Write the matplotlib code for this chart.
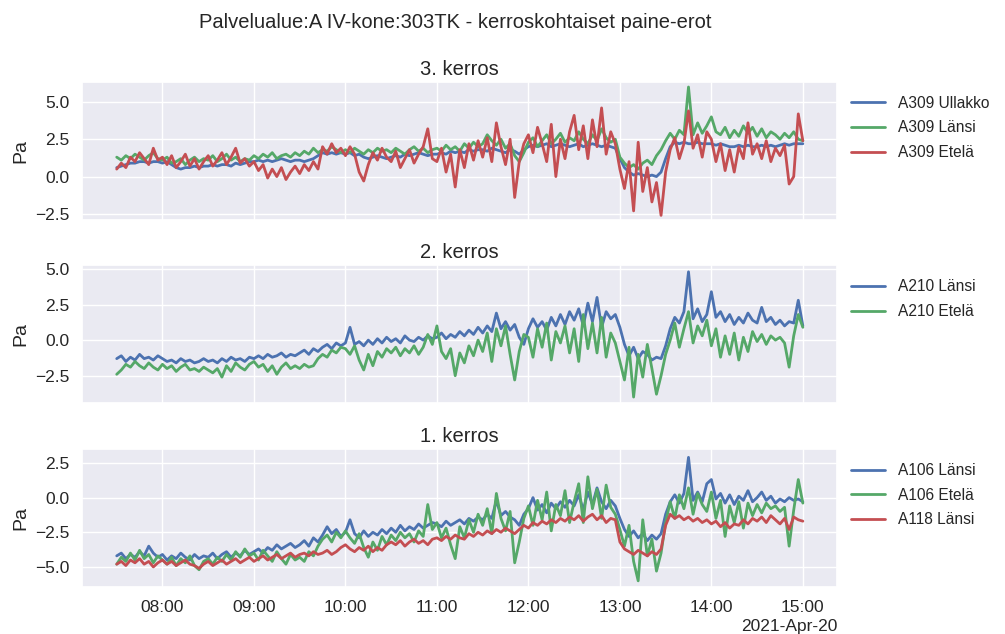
import numpy as np
import pandas as pd
import matplotlib
matplotlib.use("Agg")
import matplotlib.pyplot as plt
import matplotlib.dates as mdates
import matplotlib.ticker as mticker
import seaborn as sns

# Sampling: one reading every 3 minutes, 07:30 - 15:00
times = pd.date_range("2021-04-20 07:30", "2021-04-20 15:00", freq="3min")

# --- 3. kerros ---
a309_ullakko = [
    0.6, 0.7, 0.8, 0.9, 0.9, 1.0, 1.0, 0.9, 1.0, 1.0,
    0.9, 1.0, 0.8, 0.6, 0.5, 0.6, 0.6, 0.7, 0.6, 0.7,
    0.7, 0.8, 0.7, 0.8, 0.8, 0.7, 0.9, 0.8, 0.9, 1.0,
    1.0, 1.1, 1.0, 1.1, 1.0, 1.1, 1.2, 1.1, 1.0, 1.1,
    1.1, 1.0, 1.1, 1.2, 1.4, 1.6, 1.5, 1.6, 1.5, 1.6,
    1.5, 1.6, 1.4, 1.5, 1.3, 1.2, 1.3, 1.4, 1.3, 1.2,
    1.3, 1.4, 1.3, 1.5, 1.4, 1.5, 1.6, 1.5, 1.4, 1.5,
    1.5, 1.6, 1.5, 1.7, 1.6, 1.7, 1.6, 1.8, 1.7, 1.8,
    1.8, 1.7, 1.9, 1.8, 1.7, 1.6, 1.8, 1.7, 1.5, 1.8,
    2.0, 2.1, 2.0, 2.1, 2.2, 2.0, 2.1, 2.2, 2.1, 2.0,
    2.1, 2.2, 2.0, 2.1, 2.2, 2.1, 2.0, 2.1, 2.0, 1.9,
    1.2, 0.6, 0.3, 0.1, 0.2, 0.1, 0.0, 0.1, 0.0, 0.3,
    1.2, 2.0, 2.3, 2.2, 2.3, 2.2, 2.2, 2.3, 2.2, 2.2,
    2.2, 2.1, 2.2, 2.1, 2.0, 2.0, 2.1, 2.0, 2.1, 2.0,
    2.0, 2.1, 2.0, 2.1, 2.0, 2.1, 2.2, 2.1, 2.2, 2.2,
    2.2,
]
a309_lansi = [
    1.3, 1.1, 1.4, 1.2, 1.5, 1.3, 1.1, 1.4, 1.6, 1.2,
    1.1, 1.3, 0.9, 1.0, 1.2, 0.8, 1.1, 1.3, 1.0, 1.2,
    1.1, 1.4, 1.0, 1.2, 1.5, 1.1, 1.3, 1.0, 1.2, 1.1,
    1.4, 1.2, 1.5, 1.3, 1.6, 1.2, 1.4, 1.5, 1.3, 1.6,
    1.4, 1.7, 1.5, 1.9, 1.6, 1.8, 1.7, 2.0, 1.8, 1.6,
    1.8, 1.6, 1.9, 1.7, 1.5, 1.8, 1.6, 1.9, 1.7, 1.8,
    1.6, 1.9, 1.7, 1.5, 1.8, 2.0, 1.7, 1.9, 1.6, 1.8,
    1.9, 1.7, 2.1, 1.8, 2.0, 1.7, 2.2, 1.9, 2.3, 2.0,
    2.2, 2.8, 2.4, 2.1, 2.5, 1.9, 2.2, 1.4, 1.0, 1.6,
    2.3, 2.6, 2.0, 2.4, 2.8, 2.2, 2.5, 2.9, 2.3, 2.6,
    2.4, 3.0, 2.5, 2.2, 2.8, 2.4, 3.2, 2.6, 2.3, 2.5,
    1.3, 0.9, 0.6, 0.8, 0.5, 0.9, 1.1, 0.8, 1.4, 1.8,
    2.4, 2.9, 2.5, 3.1, 2.8, 6.0, 2.8, 3.6, 2.9, 3.4,
    4.0, 3.0, 2.8, 3.3, 2.6, 3.1, 2.7, 3.4, 2.9, 3.3,
    2.7, 3.2, 2.6, 3.0, 2.8, 2.5, 2.9, 2.6, 3.0, 2.5,
    2.4,
]
a309_etela = [
    0.5, 0.9, 0.6, 1.3, 1.0, 1.6, 1.2, 0.8, 1.9, 1.1,
    1.3, 0.8, 1.4, 0.6, 1.0, 1.5, 0.7, 1.2, 0.5, 1.0,
    1.4, 0.7, 1.1, 1.6, 0.8, 1.3, 1.9, 0.9, 1.2, 0.7,
    1.0, 0.4, 0.8, -0.1, 0.5, 0.0, 0.6, -0.2, 0.3, 0.7,
    0.2, 0.8, 0.4, 1.0, 0.5, 2.0, 1.5, 2.2, 1.6, 1.9,
    1.4, 2.0, 1.5, 0.3, -0.3, 0.8, 1.6, 1.1, 1.9, 1.3,
    1.0, 1.7, 0.6, 1.2, 1.8, 0.9, 1.5, 2.0, 3.2, 1.2,
    1.0, 1.9, 0.3, 1.5, -0.7, 1.8, 0.6, 2.2, 1.1, 2.4,
    1.3, 2.6, 1.0, 3.6, 2.0, 0.8, 2.5, -1.4, 1.0, 2.2,
    2.8, 1.6, 3.3, 2.2, 1.0, 3.5, 0.0, 2.5, 1.2, 3.0,
    4.1, 1.8, 3.4, 1.2, 3.8, 2.0, 4.6, 1.5, 3.0, 2.2,
    0.5, -0.8, 1.0, -2.3, 2.3, -1.0, 0.6, -1.7, -0.4, -2.6,
    0.3, 1.8, 2.6, 1.2, 2.2, 4.4, 1.9, 2.8, 1.3, 3.0,
    2.5, 1.0, 2.2, 0.4, 1.8, 0.3, 2.0, 1.2, 3.6, 1.5,
    2.2, 1.2, 2.4, 1.0, 1.9, 1.4, 2.1, -0.5, 0.0, 4.2,
    2.4,
]

# --- 2. kerros ---
a210_lansi = [
    -1.3, -1.1, -1.5, -1.2, -1.4, -1.0, -1.3, -1.2, -1.4, -1.1,
    -1.3, -1.5, -1.4, -1.6, -1.3, -1.5, -1.4, -1.6, -1.5, -1.3,
    -1.5, -1.4, -1.6, -1.3, -1.5, -1.2, -1.4, -1.3, -1.5, -1.2,
    -1.3, -1.1, -1.3, -1.0, -1.2, -1.1, -0.9, -1.2, -1.0, -1.1,
    -0.9, -0.7, -1.0, -0.6, -0.8, -0.5, -0.3, -0.6, -0.2, -0.4,
    -0.2, 0.9, -0.3, -0.1, -0.4, 0.0, -0.3, 0.1, -0.2, 0.2,
    -0.1, 0.1, -0.2, 0.3, 0.0, -0.1, 0.2, 0.0, 0.3, 0.1,
    0.2, 0.5, 0.1, 0.4, 0.2, 0.6, 0.3, 0.7, 0.4, 0.9,
    0.5, 1.0, 0.6, 1.9, 0.8, 1.3, 0.7, 1.1, 0.2, -0.3,
    0.8, 1.5, 0.9, 1.3, 0.7, 1.6, 1.0, 1.8, 1.1, 2.0,
    1.4, 2.2, 1.0, 2.6, 1.3, 3.0, 0.9, 2.0, 1.5, 1.8,
    0.9, -0.3, -1.1, -0.5, -1.3, -0.8, -1.0, -1.4, -1.2, -1.3,
    -0.4, 0.8, 1.6, 1.2, 2.0, 4.8, 1.5, 2.2, 1.3, 1.8,
    3.4, 1.6, 2.0, 1.3, 1.8, 1.1, 1.6, 1.2, 1.9, 1.4,
    1.2, 2.3, 1.3, 1.6, 1.1, 1.4, 1.0, 1.3, 1.2, 2.8,
    1.0,
]
a210_etela = [
    -2.4, -2.1, -1.7, -1.9, -1.5, -1.8, -2.0, -1.6, -1.9, -2.1,
    -1.7, -2.0, -1.8, -2.2, -1.9, -1.7, -2.1, -2.0, -2.2, -1.9,
    -2.1, -2.3, -2.0, -2.6, -1.8, -2.2, -1.6, -1.9, -2.1, -1.7,
    -1.5, -1.9, -1.7, -2.2, -1.8, -2.4, -1.9, -1.6, -2.0, -1.8,
    -2.0, -1.7, -1.9, -1.8, -1.3, -1.0, -1.2, -0.7, -0.9, -0.5,
    -0.6, -1.0, -0.4, -1.4, -2.1, -1.0, -1.8, -0.8, -1.2, -0.6,
    -0.9, -0.5, -1.1, -0.6, -0.9, -0.4, -1.0, -0.5, 0.4, -0.3,
    1.0, -0.8, -1.3, -0.6, -2.5, -0.9, -1.6, -0.4, -1.1, 0.0,
    -0.8, 0.5, -1.5, 0.8, -0.4, 1.0, -1.0, -2.8, -0.8, 0.4,
    0.2, -1.2, 0.8, -0.5, 1.2, -1.4, 0.6, -0.2, 1.0, -0.9,
    0.8, -1.5, 1.8, -0.6, 1.2, -0.9, 1.6, -1.2, 0.5, -0.2,
    -1.5, -2.8, -0.5, -4.0, -1.0, -2.6, -0.3, -2.0, -3.8, -2.5,
    -1.0, 0.0, 1.2, -0.5, 0.8, 2.0, -0.2, 1.0, 0.3, 1.4,
    -0.4, 0.8, -1.2, 0.3, -1.0, 0.5, -1.4, 0.2, -0.8, 0.6,
    -0.1, 0.4, -0.3, 0.3, 0.0, 0.2, -0.2, -1.9, 0.3, 1.8,
    0.9,
]

# --- 1. kerros ---
a106_lansi = [
    -4.2, -4.0, -4.4, -4.1, -4.3, -3.9, -4.2, -3.5, -4.0, -4.3,
    -4.1, -4.5, -4.2, -4.4, -4.0, -4.3, -4.5, -4.1, -4.4, -4.2,
    -4.3, -4.0, -4.4, -4.1, -3.9, -4.3, -4.0, -4.2, -3.8, -4.1,
    -3.9, -3.7, -4.0, -3.6, -3.8, -3.4, -3.7, -3.5, -3.3, -3.6,
    -3.4, -3.1, -3.5, -2.9, -3.2, -2.7, -2.1, -2.6, -2.3, -2.8,
    -2.5, -1.6, -2.6, -2.9, -2.4, -2.8, -2.5, -2.7, -2.3, -2.6,
    -2.2, -2.5, -2.0, -2.4, -2.1, -2.3, -1.9, -2.2, -2.0, -1.8,
    -1.9, -2.1, -1.7, -2.0, -1.8, -1.6, -1.9, -1.5, -1.7, -1.4,
    -1.6, -1.2, -1.5, -0.2, -1.3, -1.0, -1.4, -1.6, -2.0, -1.2,
    -0.8, 0.0, -0.9, -0.5, -1.1, -0.4, -0.8, -0.3, -0.7, -0.2,
    -0.6, 0.2, -0.9, 0.4, -0.5, 0.7, -0.3, -0.8, -0.2, -0.6,
    -1.5, -2.3, -2.8, -2.4, -2.9, -2.6, -3.1, -2.7, -3.0, -2.6,
    -1.2, -0.3, 0.2, -0.4, 0.3, 2.9, -0.2, 0.4, -0.3, 1.0,
    1.3, -0.1, 0.3, -0.4, 0.2, -0.5, 0.1, -0.2, 0.5, -0.3,
    0.0, 0.4, -0.2, 0.1, -0.4, -0.1, -0.3, 0.0, -0.2, -0.1,
    -0.3,
]
a106_etela = [
    -4.8, -4.3, -4.6, -4.0, -4.5, -3.8, -4.4, -4.1, -4.7, -4.2,
    -4.5, -4.8, -4.3, -4.9, -4.4, -4.7, -4.2, -4.9, -5.2, -4.6,
    -4.4, -4.8, -4.3, -4.6, -4.1, -4.5, -3.9, -4.3, -3.7, -4.2,
    -4.0, -4.5, -3.8, -4.2, -4.6, -3.9, -4.4, -4.8, -4.1, -4.5,
    -4.3, -4.6, -3.9, -4.2, -3.5, -3.0, -2.7, -3.2, -2.5, -2.9,
    -2.4, -2.9, -3.3, -2.6, -3.6, -4.3, -3.2, -3.8, -2.8, -3.4,
    -2.7, -3.1, -2.5, -2.9, -2.6, -3.2, -2.4, -2.8, -0.5, -2.3,
    -1.8, -2.9, -2.2, -3.4, -4.4, -2.1, -2.9, -1.6, -2.5, -1.2,
    -2.0, -0.8, -2.6, 0.3, -1.5, -2.4, -1.0, -4.7, -3.2, -1.5,
    -0.6, -2.0, -0.2, -1.6, 0.4, -2.4, -0.5, -1.3, 0.5, -1.8,
    -0.3, 1.0, -1.8, 1.5, -0.8, 0.6, -1.5, 0.9, -0.7, -1.2,
    -2.3, -3.5, -2.0, -4.6, -6.0, -1.6, -4.2, -3.0, -5.3, -4.0,
    -1.8, -0.3, -1.5, 0.2, -0.8, 0.7, -1.2, 0.3, -0.5, -1.0,
    0.4, -1.5, -0.2, -2.8, -0.6, -1.8, -0.3, -2.2, -0.4, -1.3,
    -0.5, -1.1, -0.4, -0.8, -0.6, -1.0, -0.7, -3.5, -0.9, 1.3,
    -0.4,
]
a118_lansi = [
    -4.8, -4.6, -4.9, -4.5, -4.7, -4.4, -4.8, -4.6, -5.0, -4.7,
    -4.5, -4.8, -4.6, -4.9, -4.7, -4.5, -4.8, -4.9, -5.1, -4.8,
    -4.6, -4.9, -4.7, -4.5, -4.8, -4.6, -4.4, -4.7, -4.5, -4.3,
    -4.6, -4.4, -4.2, -4.5, -4.3, -4.1, -4.4, -4.2, -4.0, -4.3,
    -4.1, -4.0, -4.2, -3.9, -4.1, -4.0, -3.8, -4.1, -3.9, -3.6,
    -3.4, -3.7, -3.9, -3.6, -3.8, -3.5, -3.9, -3.6, -3.8, -3.4,
    -3.2, -3.4, -3.1, -3.5, -3.2, -3.0, -3.3, -3.1, -3.4, -3.0,
    -2.9, -3.1, -2.8, -3.0, -2.7, -2.9, -3.0, -2.6, -2.8, -2.5,
    -2.7, -2.4, -2.6, -2.3, -2.5, -2.2, -2.4, -2.6, -2.3, -2.0,
    -2.2, -1.8, -2.0, -1.7, -1.9, -1.6, -1.8, -1.5, -1.7, -1.4,
    -1.6, -1.3, -1.7, -1.4, -1.2, -1.6, -1.3, -1.8, -1.5, -1.6,
    -3.2, -3.7, -3.9, -4.1, -3.8, -4.0, -4.2, -3.9, -4.1, -3.7,
    -2.0, -1.2, -1.5, -1.3, -1.6, -1.4, -1.7, -1.5, -1.8, -1.6,
    -1.9, -1.7, -2.1, -1.8, -2.2, -1.9, -2.0, -1.6, -1.9, -1.5,
    -1.7, -1.4, -1.8, -1.3, -1.6, -1.9, -1.5, -2.3, -1.4, -1.6,
    -1.7,
]

title = "Palvelualue:A IV-kone:303TK - kerroskohtaiset paine-erot"
panels = [
    ("3. kerros", [("A309 Ullakko", a309_ullakko), ("A309 Länsi", a309_lansi),
                   ("A309 Etelä", a309_etela)], (-2.9, 6.35)),
    ("2. kerros", [("A210 Länsi", a210_lansi), ("A210 Etelä", a210_etela)], (-4.45, 5.25)),
    ("1. kerros", [("A106 Länsi", a106_lansi), ("A106 Etelä", a106_etela),
                   ("A118 Länsi", a118_lansi)], (-6.45, 3.5)),
]

sns.set_theme(style="darkgrid")
plt.rcParams["font.family"] = ["Liberation Sans", "DejaVu Sans"]
colors = sns.color_palette("deep")
series_colors = [colors[0], colors[2], colors[3]]

fig, axes = plt.subplots(3, 1, figsize=(10.05, 6.34), dpi=100, sharex=True)
fig.subplots_adjust(left=0.082, right=0.833, top=0.871, bottom=0.074, hspace=0.33)

for ax, (ptitle, series, ylim) in zip(axes, panels):
    for (label, values), c in zip(series, series_colors):
        ax.plot(times, values, color=c, lw=2.0, label=label)
    ax.set_title(ptitle, fontsize=14.5, pad=5)
    ax.set_ylabel("Pa", fontsize=14)
    ax.set_ylim(*ylim)
    ax.yaxis.set_major_locator(mticker.MultipleLocator(2.5))
    ax.yaxis.set_major_formatter(mticker.FormatStrFormatter("%.1f"))
    ax.tick_params(labelsize=12.5)
    ax.legend(loc="upper left", bbox_to_anchor=(1.0, 1.0), fontsize=11.2,
              frameon=False, handlelength=2.2, labelspacing=0.62)

# minus sign for negative tick labels
for ax in axes:
    ax.yaxis.set_major_formatter(
        mticker.FuncFormatter(lambda v, _: f"{v:.1f}".replace("-", "\u2212")))

locator = mdates.HourLocator()
axes[-1].xaxis.set_major_locator(locator)
axes[-1].xaxis.set_major_formatter(mdates.ConciseDateFormatter(locator))
for lbl in axes[-1].get_xticklabels():
    lbl.set_fontsize(12.5)
axes[-1].xaxis.get_offset_text().set_fontsize(12.5)

fig.suptitle(title, x=0.453, y=0.98, fontsize=14.5)
fig.savefig("out.png", dpi=100)
